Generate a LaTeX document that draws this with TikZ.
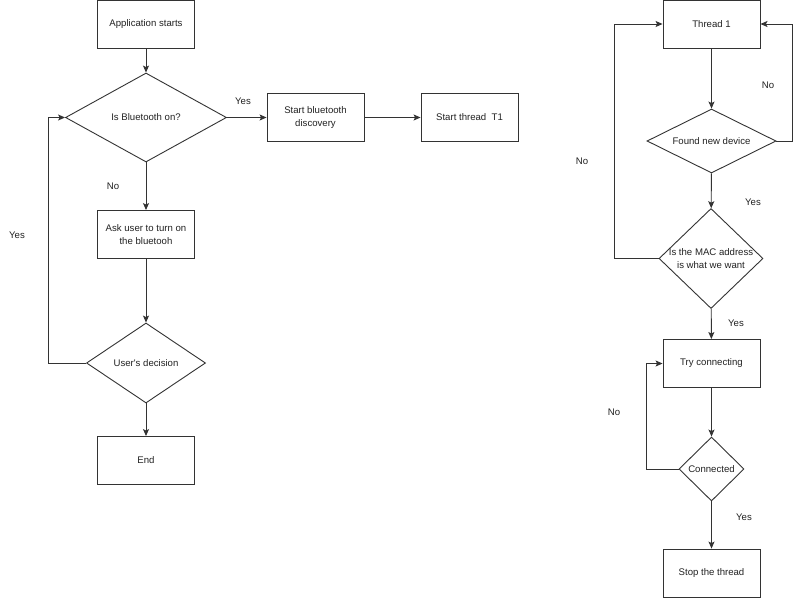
\documentclass[tikz,border=0pt]{standalone}
\usepackage{fontspec}
\setmainfont{Liberation Sans}
\usetikzlibrary{shapes.geometric,arrows.meta}
\definecolor{ln}{HTML}{333333}
\definecolor{tx}{HTML}{222222}
\begin{document}
\begin{tikzpicture}[x=1pt,y=-1pt,
  font=\fontsize{9.6}{12.5}\selectfont,
  every node/.style={text=tx},
  box/.style={draw=ln,line width=0.9pt,rectangle,minimum width=97pt,minimum height=48pt,inner sep=0pt,align=center},
  dia/.style={draw=ln,line width=0.9pt,diamond,inner sep=0pt},
  lbl/.style={inner sep=0pt},
  arr/.style={draw=ln,line width=0.9pt,-{Stealth[length=7pt,width=6pt,inset=1.5pt]}}]
\useasboundingbox (0,0) rectangle (799,599);
\fill[white] (0,0) rectangle (799,599);
% left column
\node[box] (app) at (146,24) {Application starts};
\node[dia,minimum width=161pt,minimum height=89pt,label={[text=tx]center:Is Bluetooth on?}] (bt) at (146,117.5) {};
\node[box] (disc) at (315.5,117.5) {Start bluetooth\\discovery};
\node[box] (t1) at (469.5,117.5) {Start thread\ \ T1};
\node[box] (ask) at (146,234.5) {Ask user to turn on\\the bluetooh};
\node[dia,minimum width=119pt,minimum height=80pt,label={[text=tx]center:User\textquotesingle s decision}] (ud) at (146,363) {};
\node[box] (end) at (146,460.5) {End};
\coordinate (ly1) at (48,363);
\coordinate (ly2) at (48,117.5);
\draw[arr] (app) -- (bt);
\draw[arr] (bt) -- (disc);
\draw[arr] (disc) -- (t1);
\draw[arr] (bt) -- (ask);
\draw[arr] (ask) -- (ud);
\draw[arr] (ud) -- (end);
\draw[arr] (ud.west) -- (ly1) -- (ly2) -- (bt.west);
\node[lbl] at (243,101) {Yes};
\node[lbl] at (113,186) {No};
\node[lbl] at (17,235) {Yes};
% right column
\node[box] (th) at (711.5,24) {Thread 1};
\node[dia,minimum width=129pt,minimum height=64pt,label={[text=tx]center:Found new device}] (fd) at (711.5,141) {};
\node[dia,minimum width=104pt,minimum height=100pt,label={[text=tx,align=center]center:Is the MAC address\\is what we want}] (mac) at (711,258.5) {};
\node[box] (try) at (711.5,363.5) {Try connecting};
\node[dia,minimum width=65pt,minimum height=64pt,label={[text=tx]center:Connected}] (con) at (711.5,469) {};
\node[box] (stop) at (711.5,573) {Stop the thread};
\coordinate (r1) at (792,141);
\coordinate (r2) at (792,24);
\coordinate (m1) at (614,258.5);
\coordinate (m2) at (614,24);
\coordinate (c1) at (646,469);
\coordinate (c2) at (646,363.5);
\draw[arr] (th) -- (fd);
\draw[arr] (fd.east) -- (r1) -- (r2) -- (th.east);
\draw[arr] (fd) -- (mac);
\draw[arr] (mac.west) -- (m1) -- (m2) -- (th.west);
\draw[arr] (mac) -- (try);
\draw[arr] (try) -- (con);
\draw[arr] (con.west) -- (c1) -- (c2) -- (try.west);
\draw[arr] (con) -- (stop);
\node[lbl] at (768,85) {No};
\node[lbl] at (753,202) {Yes};
\node[lbl] at (582,161) {No};
\node[lbl] at (736,323) {Yes};
\node[lbl] at (614,412) {No};
\node[lbl] at (744,517) {Yes};
\end{tikzpicture}
\end{document}
